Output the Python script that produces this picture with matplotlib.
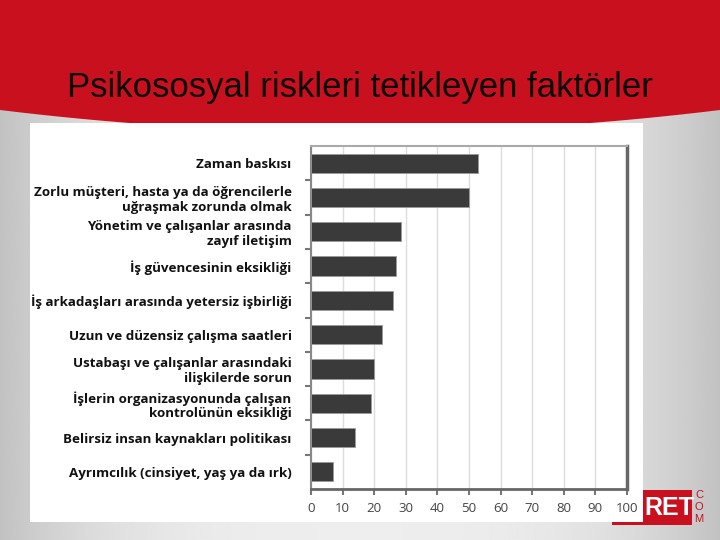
import matplotlib
matplotlib.use('Agg')
import matplotlib.pyplot as plt
import numpy as np
from matplotlib.patches import Rectangle, Polygon

title = "Psikososyal riskleri tetikleyen faktörler"
categories = [
    "Zaman baskısı",
    "Zorlu müşteri, hasta ya da öğrencilerle\nuğraşmak zorunda olmak",
    "Yönetim ve çalışanlar arasında\nzayıf iletişim",
    "İş güvencesinin eksikliği",
    "İş arkadaşları arasında yetersiz işbirliği",
    "Uzun ve düzensiz çalışma saatleri",
    "Ustabaşı ve çalışanlar arasındaki\nilişkilerde sorun",
    "İşlerin organizasyonunda çalışan\nkontrolünün eksikliği",
    "Belirsiz insan kaynakları politikası",
    "Ayrımcılık (cinsiyet, yaş ya da ırk)",
]
values = [53, 50, 28.5, 27, 26, 22.5, 20, 19, 14, 7]
xticks = list(range(0, 101, 10))

W, H = 720, 540
fig = plt.figure(figsize=(7.2, 5.4), dpi=100)
fig.patch.set_facecolor('#dcdcdc')

# background layer in pixel coordinates
bg = fig.add_axes([0, 0, 1, 1])
bg.set_xlim(0, W)
bg.set_ylim(H, 0)
bg.axis('off')
xs = np.linspace(-1, 1, 400)
row = 0.93 - 0.17 * np.abs(xs) ** 3
grad = np.tile(row, (50, 1))
bg.imshow(grad, cmap='gray', vmin=0, vmax=1, extent=(0, W, H, 0), aspect='auto', zorder=0)

# red header with curved bottom
px = np.linspace(0, W, 200)
bottom = 110 + 22 * (1 - ((px - 360) / 360) ** 2)
pts = [(0, 0), (W, 0)] + list(zip(px[::-1], bottom[::-1]))
bg.add_patch(Polygon(pts, closed=True, facecolor='#c8101e', edgecolor='none', zorder=1))
bg.text(360, 88, title, ha='center', va='center', fontsize=25,
        family='Liberation Sans', color='#0a0a0a', zorder=3)

# logo (partly behind the white picture area)
bg.add_patch(Rectangle((612, 490), 80, 35, facecolor='#c8101e', edgecolor='none', zorder=1.5))
bg.text(669, 508, "RET", ha='center', va='center', fontsize=18, color='white',
        family='Liberation Sans', fontweight='bold', zorder=4)
for i, ch in enumerate("COM"):
    bg.text(699, 495 + i * 12, ch, ha='center', va='center', fontsize=8,
            color='#c8101e', family='Liberation Sans', zorder=4)

# white picture area
bg.add_patch(Rectangle((30, 123), 613, 399, facecolor='white', edgecolor='none', zorder=2))

# chart axes
ax = fig.add_axes([311 / W, 1 - 489 / H, 316 / W, 343 / H])
ax.set_facecolor('white')
n = len(categories)
y = np.arange(n)
ax.barh(y, values, height=0.56, color='#3a3a3a', edgecolor='#9a9a9a', linewidth=0.6, zorder=3)
ax.set_xlim(0, 100)
ax.set_ylim(n - 0.5, -0.5)
ax.set_xticks(xticks)
ax.set_xticklabels([str(t) for t in xticks], fontsize=9.5, color='#444444', family='Open Sans')
ax.set_yticks(y)
ax.set_yticklabels(categories, fontsize=9.6, fontweight='bold', family='Open Sans',
                   color='#111111', ha='right', linespacing=1.2)
ax.tick_params(axis='y', which='major', length=0, pad=14)
ax.set_yticks(np.arange(n - 1) + 0.5, minor=True)
ax.tick_params(axis='y', which='minor', length=4, width=1.5, color='#777777', direction='out')
ax.tick_params(axis='x', which='major', length=4, width=1.5, color='#777777', pad=5)
ax.grid(axis='x', color='#dddddd', linewidth=1, zorder=0)
ax.set_axisbelow(True)
ax.spines['right'].set_color('#666666')
ax.spines['right'].set_linewidth(2.5)
ax.spines['bottom'].set_color('#666666')
ax.spines['bottom'].set_linewidth(2)
ax.spines['top'].set_color('#aaaaaa')
ax.spines['top'].set_linewidth(1.5)
ax.spines['left'].set_color('#888888')
ax.spines['left'].set_linewidth(1.5)

fig.savefig('out.png', dpi=100, facecolor=fig.get_facecolor())
